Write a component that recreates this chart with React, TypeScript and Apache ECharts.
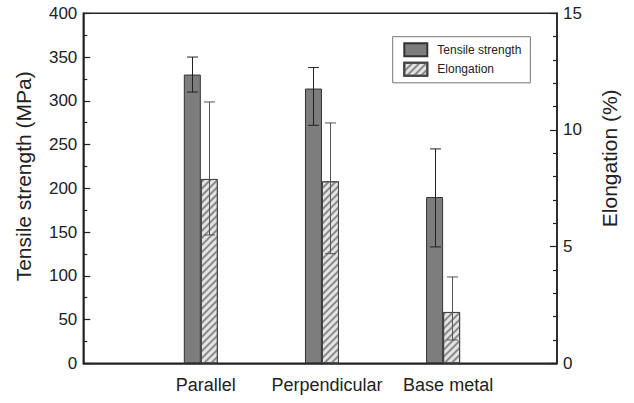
import React, { useEffect, useRef } from 'react';
import * as echarts from 'echarts';

const categories = ['Parallel', 'Perpendicular', 'Base metal'];
const categoryPositions = [1, 2, 3];

const tensileStrength = [330, 314, 190];
const tensileUpper = [350, 338, 245];
const tensileLower = [310, 272, 133];

const elongation = [7.9, 7.8, 2.2];
const elongationUpper = [11.2, 10.3, 3.7];
const elongationLower = [5.5, 4.7, 1.0];

const seriesNames = ['Tensile strength', 'Elongation'];
const leftAxisRange = { min: 0, max: 400, interval: 50 };
const rightAxisRange = { min: 0, max: 15, interval: 5 };
const xAxisRange = { min: 0.03, max: 3.94 };

const FONT = "'Liberation Sans', Arial, Helvetica, sans-serif";
const BAR_W = 17;
const CAP = 5.5;
const INK = '#222';

function errorRenderer(offset: number, color: string) {
  return (params: any, api: any) => {
    const x = api.value(0);
    const lo = api.coord([x, api.value(1)]);
    const hi = api.coord([x, api.value(2)]);
    const cx = Math.round(lo[0] + offset) + 0.5;
    const st = { stroke: color, lineWidth: 1 };
    return {
      type: 'group',
      children: [
        { type: 'line', shape: { x1: cx, y1: hi[1], x2: cx, y2: lo[1] }, style: st },
        { type: 'line', shape: { x1: cx - CAP, y1: hi[1], x2: cx + CAP, y2: hi[1] }, style: st },
        { type: 'line', shape: { x1: cx - CAP, y1: lo[1], x2: cx + CAP, y2: lo[1] }, style: st },
      ],
    };
  };
}

export default function App() {
  const ref = useRef<HTMLDivElement>(null);
  useEffect(() => {
    if (!ref.current) return;
    const chart = echarts.init(ref.current, null, { renderer: 'svg' });
    const tensileData = categoryPositions.map((p, i) => [p, tensileStrength[i]]);
    const elongData = categoryPositions.map((p, i) => [p, elongation[i]]);
    const tensileErr = categoryPositions.map((p, i) => [p, tensileLower[i], tensileUpper[i]]);
    const elongErr = categoryPositions.map((p, i) => [p, elongationLower[i], elongationUpper[i]]);

    chart.setOption({
      animation: false,
      textStyle: { fontFamily: FONT },
      grid: {
        left: 83.3, right: 77, top: 13.3, bottom: 39.7,
        show: true, borderColor: INK, borderWidth: 1.5, backgroundColor: 'transparent',
      },
      legend: {
        data: seriesNames,
        orient: 'vertical',
        left: 392.7, top: 36.7,
        itemWidth: 23, itemHeight: 13, itemGap: 4.5,
        padding: [5.6, 9, 6, 10.6],
        borderColor: '#777', borderWidth: 1,
        icon: 'rect',
        selectedMode: false,
        textStyle: { fontSize: 12, color: INK, fontFamily: FONT, padding: [0, 0, 0, 5] },
      },
      xAxis: {
        type: 'value',
        min: xAxisRange.min, max: xAxisRange.max,
        axisLine: { show: true, lineStyle: { color: INK, width: 1.5 } },
        axisTick: { show: false },
        splitLine: { show: false },
        axisLabel: {
          customValues: categoryPositions,
          formatter: (v: number) => {
            const i = categoryPositions.indexOf(Math.round(v));
            return i >= 0 ? categories[i] : '';
          },
          fontSize: 18, color: INK, margin: 13, fontFamily: FONT,
          padding: [0, 0, 0, 10],
        },
      },
      yAxis: [
        {
          type: 'value', position: 'left',
          ...leftAxisRange,
          name: 'Tensile strength (MPa)',
          nameLocation: 'middle', nameGap: 49,
          nameTextStyle: { fontSize: 21, color: INK, fontFamily: FONT, padding: [0, 0, 0, 24] },
          axisLine: { show: true, lineStyle: { color: INK, width: 1.5 } },
          axisTick: { show: true, inside: true, length: 7, lineStyle: { color: INK, width: 1.2 } },
          minorTick: { show: true, splitNumber: 2, length: 4, lineStyle: { color: INK, width: 1.2 } },
          splitLine: { show: false },
          axisLabel: { fontSize: 17, color: INK, margin: 6, fontFamily: FONT },
        },
        {
          type: 'value', position: 'right',
          ...rightAxisRange,
          name: 'Elongation (%)',
          nameLocation: 'middle', nameGap: 42,
          nameTextStyle: { fontSize: 21, color: INK, fontFamily: FONT, padding: [0, 0, 0, 60] },
          axisLine: { show: true, lineStyle: { color: INK, width: 1.5 } },
          axisTick: { show: true, inside: true, length: 7, lineStyle: { color: INK, width: 1.2 } },
          minorTick: { show: true, splitNumber: 5, length: 4, lineStyle: { color: INK, width: 1.2 } },
          splitLine: { show: false },
          axisLabel: { fontSize: 17, color: INK, margin: 6, fontFamily: FONT },
        },
      ],
      series: [
        {
          name: seriesNames[0],
          type: 'bar',
          xAxisIndex: 0, yAxisIndex: 0,
          barWidth: BAR_W, barGap: '0%',
          data: tensileData,
          itemStyle: { color: '#7d7d7d', borderColor: '#333', borderWidth: 1 },
          z: 2,
        },
        {
          name: seriesNames[1],
          type: 'bar',
          xAxisIndex: 0, yAxisIndex: 1,
          barWidth: BAR_W, barGap: '0%',
          data: elongData,
          itemStyle: {
            color: '#e4e4e4', borderColor: '#444', borderWidth: 1,
            decal: {
              symbol: 'rect', symbolSize: 1, color: '#8a8a8a',
              dashArrayX: [1, 0], dashArrayY: [1.2, 2.2], rotation: -Math.PI / 4,
            },
          },
          z: 2,
        },
        {
          type: 'custom',
          xAxisIndex: 0, yAxisIndex: 0,
          renderItem: errorRenderer(-BAR_W / 2, '#222'),
          data: tensileErr,
          encode: { x: 0, y: [1, 2] },
          z: 5, silent: true,
        },
        {
          type: 'custom',
          xAxisIndex: 0, yAxisIndex: 1,
          renderItem: errorRenderer(BAR_W / 2, '#555'),
          data: elongErr,
          encode: { x: 0, y: [1, 2] },
          z: 5, silent: true,
        },
      ],
    });
    return () => chart.dispose();
  }, []);
  return (
    <div
      ref={ref}
      style={{ position: 'absolute', left: 0, top: 0, width: 634, height: 403, background: '#fff' }}
    />
  );
}
